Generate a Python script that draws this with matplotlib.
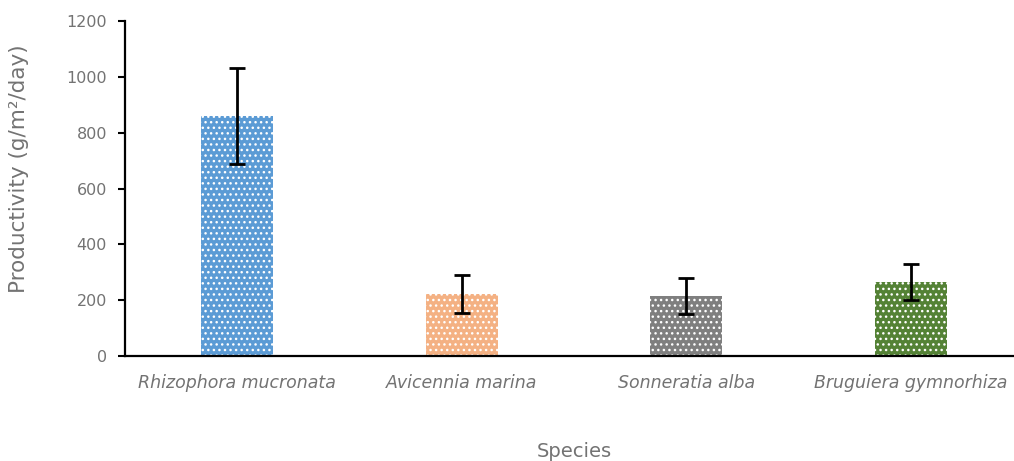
import matplotlib
matplotlib.use("Agg")
import matplotlib.pyplot as plt
import numpy as np

species = ["Rhizophora mucronata", "Avicennia marina", "Sonneratia alba", "Bruguiera gymnorhiza"]
productivity = [860, 222, 215, 265]
errors = [172, 67, 63, 63]
colors = ["#5B9BD5", "#F4B183", "#7F7F7F", "#548235"]
yticks = [0, 200, 400, 600, 800, 1000, 1200]

plt.rcParams['font.family'] = ['DejaVu Sans']
txt = "#737373"

fig = plt.figure(figsize=(10.14, 4.61), dpi=100)
ax = fig.add_axes([125/1014, 1 - 356/461, (1023 - 125)/1014, (356 - 21)/461])

x = np.arange(len(species))
bars = ax.bar(x, productivity, width=0.32, color=colors, edgecolor="white",
              linewidth=0, hatch="...", zorder=2)
ax.errorbar(x, productivity, yerr=errors, fmt="none", ecolor="black",
            elinewidth=2, capsize=5.5, capthick=2, zorder=3)

ax.set_xlim(-0.5, len(species) - 0.5)
ax.set_ylim(0, 1200)
ax.set_yticks(yticks)
ax.set_yticklabels([str(v) for v in yticks], color=txt, fontsize=11.5)
ax.set_xticks(x)
ax.set_xticklabels(species, style="italic", color=txt, fontsize=12.5)
ax.tick_params(axis="x", length=0, pad=13)
ax.tick_params(axis="y", length=5, width=1.5, direction="out", pad=8)

for s in ["top", "right"]:
    ax.spines[s].set_visible(False)
ax.spines["left"].set_linewidth(1.6)
ax.spines["bottom"].set_linewidth(1.6)

ax.set_ylabel("Productivity (g/m²/day)", color=txt, fontsize=15.5)
ax.yaxis.set_label_coords(-96/898, 0.56)
ax.set_xlabel("Species", color=txt, fontsize=14, labelpad=36)

fig.savefig("out.png", dpi=100)
